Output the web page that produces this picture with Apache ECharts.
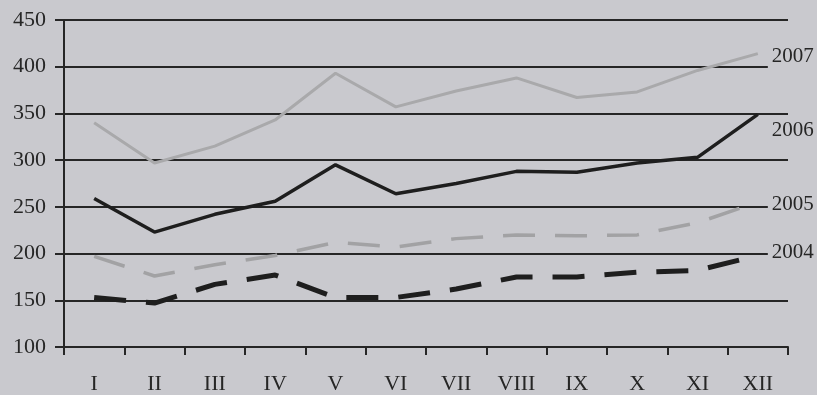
<!DOCTYPE html>
<html>
<head>
<meta charset="utf-8">
<style>
  html, body { margin: 0; padding: 0; background: #c9c9ce; }
  #chart { width: 817px; height: 395px; }
</style>
<script src="https://cdn.jsdelivr.net/npm/echarts@6/dist/echarts.min.js"></script>
</head>
<body>
<div id="chart"></div>
<script>
// months in roman numerals
const months = ['I', 'II', 'III', 'IV', 'V', 'VI', 'VII', 'VIII', 'IX', 'X', 'XI', 'XII']
const values2007 = [340, 297, 315, 343, 393, 357, 374, 388, 367, 373, 396, 414]
const values2006 = [259, 223, 242, 256, 295, 264, 275, 288, 287, 297, 303, 349]
const values2005 = [197, 176, 188, 198, 212, 207, 216, 220, 219, 220, 233, 255]
const values2004 = [153, 147, 167, 177, 153, 153, 162, 175, 175, 180, 182, 198]
const yTicks = [100, 450, 50] // min, max, step

const bg = '#c9c9ce'
const ink = '#262626'
const serif = '"Liberation Serif", "DejaVu Serif", serif'

const chart = echarts.init(document.getElementById('chart'))

const endLabel = (offsetY) => ({
  show: true,
  formatter: '{a}',
  color: ink,
  fontFamily: serif,
  fontSize: 21,
  distance: 10,
  offset: [0, offsetY],
  backgroundColor: bg,
  padding: [2, 6, 2, 4],
})

const option = {
  backgroundColor: bg,
  animation: false,
  grid: { left: 64, right: 29, top: 20, bottom: 47 },
  xAxis: {
    type: 'category',
    data: months,
    boundaryGap: true,
    axisLine: { lineStyle: { color: ink, width: 2 } },
    axisTick: { show: true, length: 8, lineStyle: { color: ink, width: 2 } },
    axisLabel: { color: ink, fontFamily: serif, fontSize: 22, margin: 26 },
    splitLine: { show: false },
  },
  yAxis: {
    type: 'value',
    min: yTicks[0],
    max: yTicks[1],
    interval: yTicks[2],
    axisLine: { show: true, lineStyle: { color: ink, width: 2 } },
    axisTick: { show: true, length: 9, lineStyle: { color: ink, width: 2 } },
    axisLabel: { color: ink, fontFamily: serif, fontSize: 22, margin: 18 },
    splitLine: { show: true, lineStyle: { color: ink, width: 2 } },
  },
  series: [
    {
      name: '2007',
      type: 'line',
      data: values2007,
      symbol: 'none',
      z: 3,
      lineStyle: { color: '#a9a9ab', width: 3 },
      endLabel: endLabel(3),
    },
    {
      name: '2006',
      type: 'line',
      data: values2006,
      symbol: 'none',
      z: 4,
      lineStyle: { color: '#1e1e1e', width: 3.5 },
      endLabel: endLabel(16),
    },
    {
      name: '2005',
      type: 'line',
      data: values2005,
      symbol: 'none',
      z: 3,
      lineStyle: { color: '#a2a2a4', width: 3.5, type: [32, 20] },
      endLabel: endLabel(2),
    },
    {
      name: '2004',
      type: 'line',
      data: values2004,
      symbol: 'none',
      z: 4,
      lineStyle: { color: '#1e1e1e', width: 5, type: [32, 20] },
      endLabel: endLabel(-3),
    },
  ],
}

chart.setOption(option)
</script>
</body>
</html>
